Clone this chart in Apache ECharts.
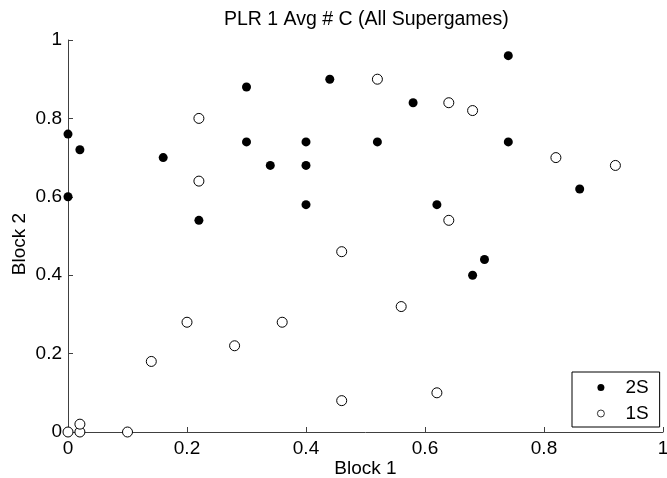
<!DOCTYPE html>
<html>
<head>
<meta charset="utf-8">
<script src="https://cdn.jsdelivr.net/npm/echarts@6/dist/echarts.min.js"></script>
<style>
  html, body { margin: 0; padding: 0; background: #fff; }
  #main { width: 667px; height: 478px; }
</style>
</head>
<body>
<div id="main"></div>
<script>
// 2S (filled dots), [Block 1, Block 2]
var twoS = [
  [0, 0.76], [0.02, 0.72], [0, 0.60], [0.16, 0.70], [0.22, 0.54],
  [0.30, 0.88], [0.30, 0.74], [0.34, 0.68], [0.40, 0.74], [0.40, 0.68],
  [0.40, 0.58], [0.44, 0.90], [0.52, 0.74], [0.58, 0.84], [0.62, 0.58],
  [0.68, 0.40], [0.70, 0.44], [0.74, 0.96], [0.74, 0.74], [0.86, 0.62]
];
// 1S (open circles)
var oneS = [
  [0.22, 0.80], [0.22, 0.64], [0.52, 0.90], [0.64, 0.84], [0.68, 0.82],
  [0.64, 0.54], [0.82, 0.70], [0.92, 0.68], [0.46, 0.46], [0.56, 0.32],
  [0.20, 0.28], [0.36, 0.28], [0.28, 0.22], [0.14, 0.18], [0.46, 0.08],
  [0.62, 0.10], [0, 0], [0.02, 0], [0.02, 0.02], [0.10, 0]
];
var seriesNames = ['2S', '1S'];
var ticks = [0, 0.2, 0.4, 0.6, 0.8, 1];

var font = 'Liberation Sans, Arial, sans-serif';
var chart = echarts.init(document.getElementById('main'));

function axis(name) {
  return {
    type: 'value',
    min: ticks[0],
    max: ticks[ticks.length - 1],
    interval: 0.2,
    name: name,
    nameLocation: 'middle',
    nameMoveOverlap: false,
    nameTextStyle: { color: '#000', fontFamily: font, fontSize: 19 },
    axisLine: { show: true, lineStyle: { color: '#404040', width: 1 } },
    axisTick: { show: true, inside: true, length: 5, lineStyle: { color: '#404040' } },
    axisLabel: { color: '#000', fontFamily: font, fontSize: 19, margin: 6 },
    splitLine: { show: false }
  };
}

var xAxis = axis('Block 1');
xAxis.nameGap = 27;
xAxis.axisLabel.margin = 7;
var yAxis = axis('Block 2');
yAxis.nameGap = 39;
yAxis.nameTextStyle.padding = [0, 16, 0, 0];

var option = {
  animation: false,
  backgroundColor: '#fff',
  title: {
    text: 'PLR 1 Avg # C (All Supergames)',
    left: 219,
    top: 5,
    textStyle: { color: '#000', fontFamily: font, fontSize: 19.5, fontWeight: 'normal' }
  },
  grid: { left: 68, right: 4, top: 40, bottom: 46, containLabel: false, outerBoundsMode: 'none' },
  legend: {
    orient: 'vertical',
    left: 572,
    top: 372,
    data: seriesNames,
    itemWidth: 7,
    itemHeight: 7,
    itemGap: 7,
    padding: [6, 11, 4, 25],
    backgroundColor: '#fff',
    borderColor: '#000',
    borderWidth: 1,
    borderRadius: 0,
    itemStyle: { borderWidth: 0.8 },
    textStyle: { color: '#000', fontFamily: font, fontSize: 19, padding: [0, 0, 0, 16] }
  },
  xAxis: xAxis,
  yAxis: yAxis,
  series: [
    {
      name: seriesNames[0],
      type: 'scatter',
      symbol: 'circle',
      symbolSize: 9,
      data: twoS,
      itemStyle: { color: '#000', opacity: 1 }
    },
    {
      name: seriesNames[1],
      type: 'scatter',
      symbol: 'circle',
      symbolSize: 10,
      data: oneS,
      itemStyle: { color: '#fff', borderColor: '#000', borderWidth: 1, opacity: 1 }
    }
  ]
};

chart.setOption(option);
</script>
</body>
</html>
